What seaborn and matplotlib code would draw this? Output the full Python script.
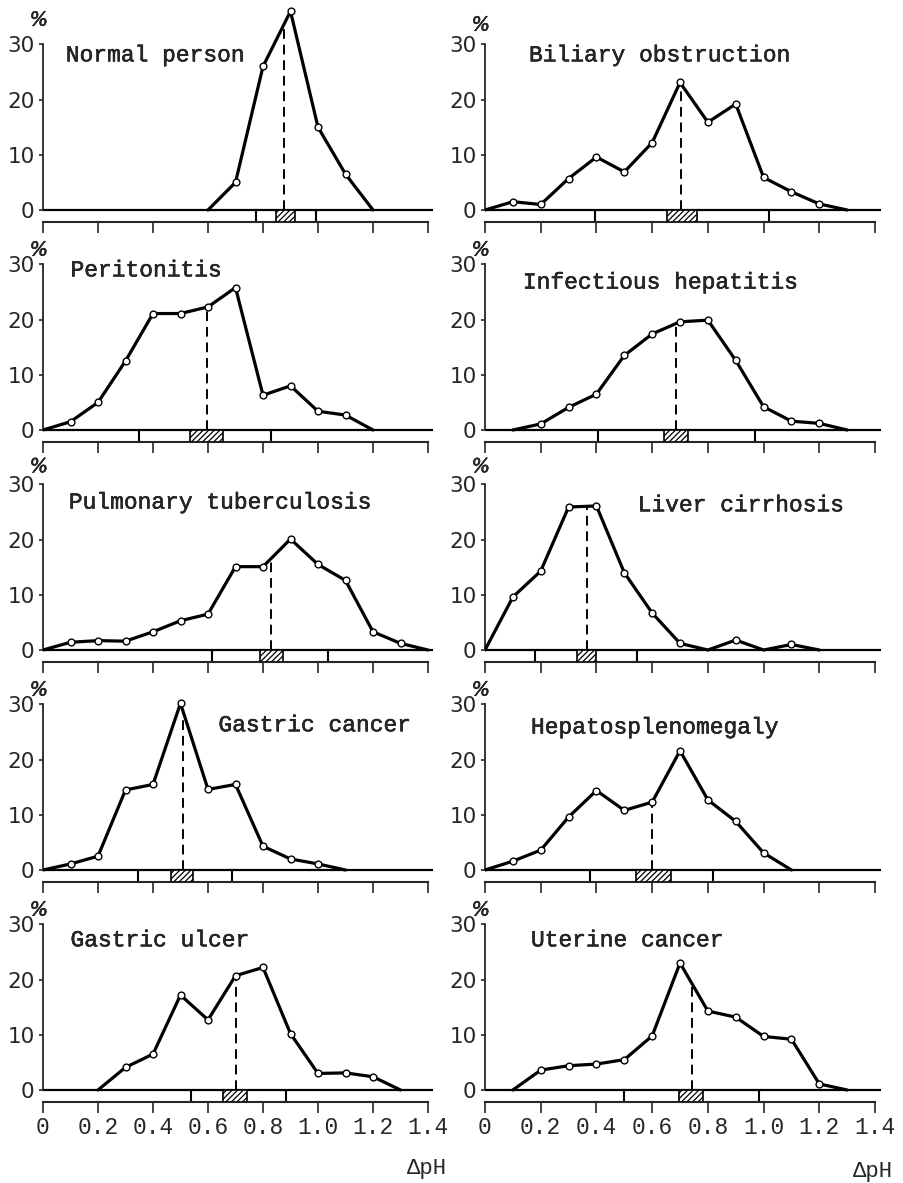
import numpy as np
import matplotlib
matplotlib.use("Agg")
import matplotlib.pyplot as plt
import matplotlib.patheffects as pe
import seaborn as sns

# ---------------- data ----------------
titles = ["Normal person", "Biliary obstruction", "Peritonitis", "Infectious hepatitis",
          "Pulmonary tuberculosis", "Liver cirrhosis", "Gastric cancer",
          "Hepatosplenomegaly", "Gastric ulcer", "Uterine cancer"]

normal_x = [0.6, 0.7, 0.8, 0.9, 1.0, 1.1, 1.2]
normal_y = [0, 5, 26, 36, 15, 6.5, 0]

biliary_x = [0.0, 0.1, 0.2, 0.3, 0.4, 0.5, 0.6, 0.7, 0.8, 0.9, 1.0, 1.1, 1.2, 1.3]
biliary_y = [0, 1.5, 1.0, 5.7, 9.6, 6.9, 12.2, 23.1, 15.9, 19.2, 5.9, 3.3, 1.1, 0]

periton_x = [0.0, 0.1, 0.2, 0.3, 0.4, 0.5, 0.6, 0.7, 0.8, 0.9, 1.0, 1.1, 1.2]
periton_y = [0, 1.5, 5.0, 12.5, 21.1, 21.1, 22.3, 25.8, 6.3, 8.0, 3.4, 2.7, 0]

hepatitis_x = [0.1, 0.2, 0.3, 0.4, 0.5, 0.6, 0.7, 0.8, 0.9, 1.0, 1.1, 1.2, 1.3]
hepatitis_y = [0, 1.1, 4.1, 6.5, 13.5, 17.4, 19.6, 19.9, 12.6, 4.2, 1.6, 1.2, 0]

tbc_x = [0.0, 0.1, 0.2, 0.3, 0.4, 0.5, 0.6, 0.7, 0.8, 0.9, 1.0, 1.1, 1.2, 1.3, 1.4]
tbc_y = [0, 1.4, 1.7, 1.6, 3.3, 5.3, 6.5, 15.1, 15.1, 20.1, 15.5, 12.6, 3.3, 1.2, 0]

cirrhosis_x = [0.0, 0.1, 0.2, 0.3, 0.4, 0.5, 0.6, 0.7, 0.8, 0.9, 1.0, 1.1, 1.2]
cirrhosis_y = [0, 9.6, 14.3, 25.9, 26.1, 14.0, 6.7, 1.2, 0, 1.8, 0, 1.0, 0]

gcancer_x = [0.0, 0.1, 0.2, 0.3, 0.4, 0.5, 0.6, 0.7, 0.8, 0.9, 1.0, 1.1]
gcancer_y = [0, 1.1, 2.5, 14.5, 15.5, 30.2, 14.6, 15.5, 4.3, 2.0, 1.1, 0]

hepatospl_x = [0.0, 0.1, 0.2, 0.3, 0.4, 0.5, 0.6, 0.7, 0.8, 0.9, 1.0, 1.1]
hepatospl_y = [0, 1.6, 3.6, 9.6, 14.4, 10.8, 12.3, 21.6, 12.7, 8.8, 3.1, 0]

ulcer_x = [0.2, 0.3, 0.4, 0.5, 0.6, 0.7, 0.8, 0.9, 1.0, 1.1, 1.2, 1.3]
ulcer_y = [0, 4.1, 6.5, 17.2, 12.7, 20.7, 22.2, 10.2, 3.0, 3.1, 2.4, 0]

uterine_x = [0.1, 0.2, 0.3, 0.4, 0.5, 0.6, 0.7, 0.8, 0.9, 1.0, 1.1, 1.2, 1.3]
uterine_y = [0, 3.6, 4.4, 4.7, 5.5, 9.8, 23.0, 14.3, 13.2, 9.7, 9.2, 1.1, 0]

series_x = [normal_x, biliary_x, periton_x, hepatitis_x, tbc_x,
            cirrhosis_x, gcancer_x, hepatospl_x, ulcer_x, uterine_x]
series_y = [normal_y, biliary_y, periton_y, hepatitis_y, tbc_y,
            cirrhosis_y, gcancer_y, hepatospl_y, ulcer_y, uterine_y]

median_x = [0.875, 0.705, 0.595, 0.686, 0.83, 0.366, 0.509, 0.60, 0.70, 0.742]
range_lo = [0.773, 0.396, 0.350, 0.406, 0.613, 0.180, 0.347, 0.376, 0.538, 0.500]
range_hi = [0.991, 1.019, 0.830, 0.969, 1.036, 0.545, 0.686, 0.817, 0.884, 0.984]
hatch_lo = [0.849, 0.655, 0.533, 0.642, 0.790, 0.330, 0.467, 0.543, 0.654, 0.695]
hatch_hi = [0.915, 0.760, 0.655, 0.728, 0.873, 0.400, 0.547, 0.666, 0.741, 0.783]

x_ticks = [0, 0.2, 0.4, 0.6, 0.8, 1.0, 1.2, 1.4]
x_ticklabels = ["0", "0.2", "0.4", "0.6", "0.8", "1.0", "1.2", "1.4"]
y_ticks = [0, 10, 20, 30]
y_ticklabels = ["0", "10", "20", "30"]

# ---------------- layout ----------------
title_pos = [(0.083, 28.1), (0.158, 28.1), (0.10, 29.0), (0.136, 26.8), (0.094, 26.8),
             (0.548, 26.3), (0.638, 26.3), (0.165, 25.9), (0.10, 27.2), (0.165, 27.2)]
pct_y = [34.4, 33.5, 32.6, 32.6, 33.2, 33.2, 32.6, 32.6, 32.6, 32.6]

W, H = 904, 1183
UNIT = 5.52
YMIN, YMAX = -2.2, 37.5
XMAX = 1.42
col_x0 = [43, 485]
col_scale = [275.0, 278.6]
row_base = [210, 430, 650, 870, 1090]

sns.set_style("ticks")
plt.rcParams["font.family"] = ["Liberation Mono", "DejaVu Sans"]
plt.rcParams["hatch.linewidth"] = 0.9

ink = [pe.withStroke(linewidth=0.35, foreground="black")]

fig = plt.figure(figsize=(W / 100, H / 100), dpi=100)
fig.patch.set_facecolor("white")

for i in range(10):
    r, c = divmod(i, 2)
    left = col_x0[c] / W
    width = XMAX * col_scale[c] / W
    bottom_px = row_base[r] - YMIN * UNIT
    bottom = 1 - bottom_px / H
    height = (YMAX - YMIN) * UNIT / H
    ax = fig.add_axes([left, bottom, width, height])
    ax.patch.set_alpha(0)

    xs = np.array(series_x[i])
    ys = np.array(series_y[i])

    # zero baseline
    ax.axhline(0, color="black", lw=1.6, zorder=2)
    # range strip
    ax.vlines([range_lo[i], range_hi[i]], YMIN, 0, colors="black", lw=1.5, zorder=2)
    ax.bar(x=hatch_lo[i], height=-YMIN, width=hatch_hi[i] - hatch_lo[i], bottom=YMIN,
           align="edge", facecolor="white", edgecolor="black", hatch="//////",
           lw=1.2, zorder=3)
    # median dashed line
    top = np.interp(median_x[i], xs, ys)
    ax.vlines(median_x[i], 0, top, colors="black", lw=1.4,
              linestyles=(0, (5, 3)), zorder=3)
    # curve
    sns.lineplot(x=xs, y=ys, ax=ax, color="black", lw=2.3, estimator=None,
                 sort=False, zorder=4)
    mask = ys > 0
    sns.scatterplot(x=xs[mask], y=ys[mask], ax=ax, s=24, facecolor="white",
                    edgecolor="black", linewidth=1.0, zorder=5)

    ax.set_xlim(0, XMAX)
    ax.set_ylim(YMIN, YMAX)
    for s in ["top", "right"]:
        ax.spines[s].set_visible(False)
    ax.spines["left"].set_bounds(0, 30)
    ax.spines["bottom"].set_bounds(0, 1.4)
    ax.spines["left"].set_linewidth(1.3)
    ax.spines["bottom"].set_linewidth(1.5)

    ax.set_yticks(y_ticks)
    ax.set_yticklabels(y_ticklabels, fontsize=15.5, family="DejaVu Sans")
    ax.tick_params(axis="y", direction="out", length=3, width=1.2, pad=3)
    ax.set_xticks(x_ticks)
    if r == 4:
        ax.set_xticklabels(x_ticklabels, fontsize=16.5)
        ax.text(1.322, -14.2 - 0.6 * c, "ΔpH", fontsize=16, ha="left", va="center")
    else:
        ax.set_xticklabels([])
    ax.tick_params(axis="x", direction="out", length=8, width=1.2, pad=2)

    ax.text(title_pos[i][0], title_pos[i][1], titles[i], fontsize=16.5,
            ha="left", va="center", path_effects=ink)
    ax.text(-0.015, pct_y[i], "%", fontsize=14, style="italic",
            family="DejaVu Sans", ha="center", va="center", path_effects=ink)
    ax.set_xlabel("")
    ax.set_ylabel("")

fig.savefig("out.png", dpi=100, facecolor="white")
